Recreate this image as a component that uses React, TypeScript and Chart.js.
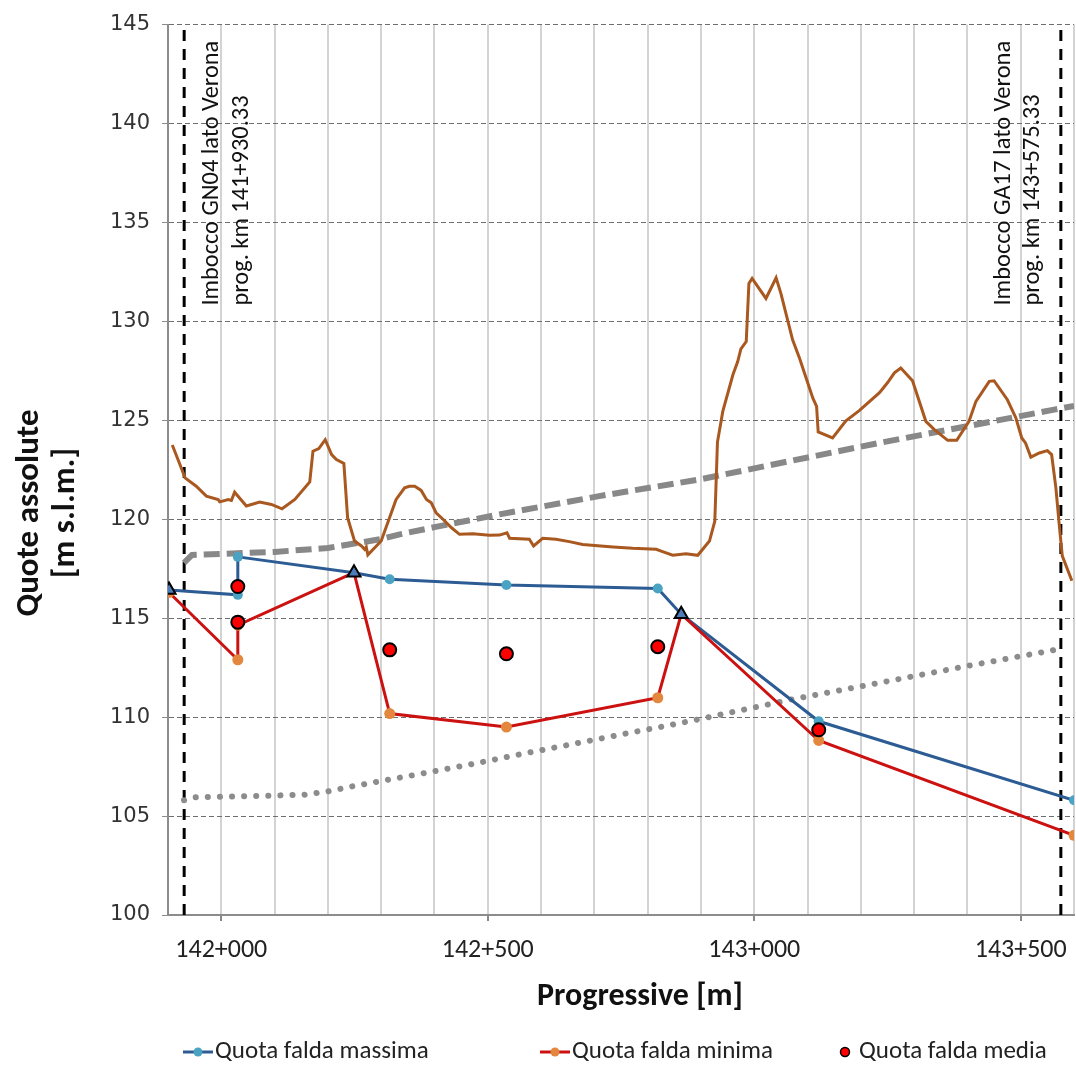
import React, { useEffect, useRef } from "react";
import { Chart, registerables } from "chart.js";

Chart.register(...registerables);

// ---------- data ----------
const seriesNames = ["Quota falda massima", "Quota falda minima", "Quota falda media"];
const xTitle = "Progressive [m]";
const yTitle = ["Quote assolute", "[m s.l.m.]"];

const xTickValues = [142000, 142500, 143000, 143500];
const xTickLabels = ["142+000", "142+500", "143+000", "143+500"];
const yMin = 100;
const yMax = 145;
const yStep = 5;
const xMin = 141900;
const xMax = 143600;
const xStep = 100;

const portalProgs = [141930.33, 143575.33];
const portalTexts: string[][] = [
  ["Imbocco GN04 lato Verona", "prog. km 141+930.33"],
  ["Imbocco GA17 lato Verona", "prog. km 143+575.33"],
];

const terrain: [number, number][] = [
  [141908, 123.75], [141920, 122.93], [141932, 122.09], [141953, 121.67], [141972, 121.17],
  [141994, 121.0], [141997, 120.88], [142013, 121.0], [142019, 120.95], [142025, 121.37],
  [142047, 120.67], [142072, 120.87], [142094, 120.75], [142114, 120.53], [142138, 121.0],
  [142166, 121.89], [142172, 123.44], [142183, 123.57], [142195, 124.02], [142207, 123.27],
  [142216, 123.02], [142230, 122.82], [142237, 120.08], [142250, 118.9], [142263, 118.65],
  [142269, 118.48], [142272, 118.6], [142275, 118.2], [142300, 118.9], [142328, 121.0],
  [142344, 121.59], [142353, 121.67], [142363, 121.67], [142375, 121.46], [142385, 121.0],
  [142394, 120.83], [142403, 120.33], [142416, 120.0], [142432, 119.57], [142447, 119.24],
  [142472, 119.27], [142503, 119.19], [142522, 119.2], [142536, 119.32], [142541, 119.04],
  [142578, 118.99], [142586, 118.65], [142603, 119.04], [142628, 118.99], [142653, 118.87],
  [142678, 118.73], [142735, 118.6], [142772, 118.53], [142816, 118.48], [142828, 118.36],
  [142847, 118.18], [142872, 118.26], [142894, 118.18], [142916, 118.9], [142926, 119.9],
  [142931, 123.9], [142941, 125.45], [142960, 127.3], [142969, 127.97], [142975, 128.61],
  [142985, 128.98], [142990, 131.92], [142996, 132.17], [143022, 131.16], [143041, 132.2],
  [143050, 131.42], [143072, 129.07], [143085, 128.14], [143110, 126.12], [143117, 125.7],
  [143120, 124.41], [143147, 124.11], [143172, 124.98], [143197, 125.49], [143235, 126.4],
  [143250, 126.9], [143263, 127.4], [143275, 127.64], [143297, 127.0], [143322, 124.95],
  [143338, 124.53], [143363, 123.99], [143380, 123.99], [143403, 124.95], [143416, 125.96],
  [143441, 126.97], [143450, 127.0], [143475, 126.04], [143491, 125.12], [143502, 124.11],
  [143509, 123.86], [143519, 123.14], [143535, 123.35], [143550, 123.47], [143558, 123.27],
  [143566, 121.59], [143572, 119.82], [143578, 118.15], [143596, 116.89],
];

const dashedProfile: [number, number][] = [
  [141930, 117.8], [141945, 118.2], [142000, 118.25], [142100, 118.35], [142200, 118.55],
  [142300, 119.0], [142335, 119.24], [142400, 119.6], [142522, 120.25], [142709, 121.17],
  [142897, 122.01], [143235, 123.86], [143563, 125.54], [143600, 125.73],
];

const dottedProfile: [number, number][] = [
  [141930, 105.8], [141950, 105.95], [142090, 106.03], [142156, 106.08], [142201, 106.25],
  [142246, 106.5], [142314, 106.84], [142385, 107.19], [142475, 107.65], [142566, 108.15],
  [142656, 108.62], [142746, 109.1], [142837, 109.57], [142882, 109.81], [143066, 110.87],
  [143197, 111.54], [143403, 112.6], [143575, 113.45],
];

const faldaMassima: [number, number][] = [
  [141902, 116.43], [142031, 116.18], [142031, 118.1], [142249, 117.3], [142316, 116.97],
  [142535, 116.68], [142819, 116.5], [142863, 115.2], [143121, 109.79], [143600, 105.8],
];

const faldaMinima: [number, number][] = [
  [141902, 116.3], [142031, 112.9], [142031, 114.65], [142249, 117.3], [142316, 110.18],
  [142535, 109.5], [142819, 110.98], [142863, 115.2], [143121, 108.82], [143600, 104.03],
];

const faldaMedia: [number, number][] = [
  [142031, 116.6], [142031, 114.8], [142316, 113.4], [142535, 113.2], [142819, 113.56],
  [143121, 109.36],
];

const coincidencePoints: [number, number][] = [
  [141902, 116.43], [142249, 117.3], [142863, 115.2],
];

// ---------- styling ----------
const CAL = "Carlito, 'Liberation Sans Narrow', 'Open Sans', sans-serif";
const VER = "'DejaVu Sans', Verdana, sans-serif";

const C_TERRAIN = "#A9581F";
const C_MAX_LINE = "#2C5C93";
const C_MAX_PT = "#4BA3C3";
const C_MIN_LINE = "#CC1111";
const C_MIN_PT = "#E2873D";

const toXY = (arr: [number, number][]) => arr.map(([x, y]) => ({ x, y }));

const fmtProg = (v: number) => {
  const i = xTickValues.indexOf(v);
  return i >= 0 ? xTickLabels[i] : "";
};

const extrasPlugin = {
  id: "extras",
  afterDraw(chart: any) {
    const { ctx, chartArea, scales } = chart;
    const xs = scales.x;

    // y axis title
    const yTitleX = [30, 66];
    yTitle.forEach((t, i) => {
      ctx.save();
      ctx.fillStyle = "#111";
      ctx.font = `bold 33px ${CAL}`;
      ctx.textAlign = "center";
      ctx.textBaseline = "middle";
      ctx.translate(yTitleX[i], 513);
      ctx.rotate(-Math.PI / 2);
      ctx.fillText(t, 0, 0);
      ctx.restore();
    });

    // x axis title
    ctx.save();
    ctx.fillStyle = "#111";
    ctx.font = `bold 32px ${CAL}`;
    ctx.textAlign = "center";
    ctx.textBaseline = "middle";
    ctx.fillText(xTitle, 640, 997);
    ctx.restore();

    // portal annotations
    const offsets = [
      [28, 58],
      [-57, -28],
    ];
    portalProgs.forEach((p, k) => {
      const px = xs.getPixelForValue(p);
      ctx.save();
      ctx.font = `22px ${CAL}`;
      const w = ctx.measureText(portalTexts[k][0]).width;
      const size = (22 * 265) / w;
      ctx.font = `${size}px ${CAL}`;
      ctx.fillStyle = "#111";
      ctx.textAlign = "left";
      ctx.textBaseline = "middle";
      portalTexts[k].forEach((t, j) => {
        ctx.save();
        ctx.translate(px + offsets[k][j], chartArea.top + 281);
        ctx.rotate(-Math.PI / 2);
        ctx.fillText(t, 0, 0);
        ctx.restore();
      });
      ctx.restore();
    });

    // legend
    const ly = 1052;
    const starts = [183, 540, 838];
    ctx.save();
    ctx.font = `25px ${CAL}`;
    ctx.textBaseline = "middle";
    ctx.textAlign = "left";
    const drawLineSample = (x0: number, line: string, pt: string) => {
      ctx.strokeStyle = line;
      ctx.lineWidth = 3;
      ctx.beginPath();
      ctx.moveTo(x0, ly);
      ctx.lineTo(x0 + 30, ly);
      ctx.stroke();
      ctx.fillStyle = pt;
      ctx.beginPath();
      ctx.arc(x0 + 15, ly, 4.5, 0, Math.PI * 2);
      ctx.fill();
    };
    drawLineSample(starts[0], C_MAX_LINE, C_MAX_PT);
    ctx.fillStyle = "#222";
    ctx.fillText(seriesNames[0], starts[0] + 32, ly);
    drawLineSample(starts[1], C_MIN_LINE, C_MIN_PT);
    ctx.fillStyle = "#222";
    ctx.fillText(seriesNames[1], starts[1] + 32, ly);
    ctx.fillStyle = "#FF0000";
    ctx.strokeStyle = "#000";
    ctx.lineWidth = 1.5;
    ctx.beginPath();
    ctx.arc(starts[2] + 7, ly, 4.5, 0, Math.PI * 2);
    ctx.fill();
    ctx.stroke();
    ctx.fillStyle = "#222";
    ctx.fillText(seriesNames[2], starts[2] + 21, ly);
    ctx.restore();
  },
};

export default function App() {
  const ref = useRef<HTMLCanvasElement | null>(null);

  useEffect(() => {
    if (!ref.current) return;
    const triIdx = new Set(coincidencePoints.map(([x, y]) => `${x}_${y}`));
    const radii = (arr: [number, number][], r: number) =>
      arr.map(([x, y]) => (triIdx.has(`${x}_${y}`) ? 0 : r));

    const datasets: any[] = [
      {
        label: "coincidence",
        data: toXY(coincidencePoints),
        showLine: false,
        pointStyle: "triangle",
        pointRadius: 7.5,
        pointBackgroundColor: "#4A7DBA",
        pointBorderColor: "#000",
        pointBorderWidth: 2,
        order: 0,
      },
      {
        label: seriesNames[2],
        data: toXY(faldaMedia),
        showLine: false,
        pointRadius: 6.5,
        pointBackgroundColor: "#FF0000",
        pointBorderColor: "#000",
        pointBorderWidth: 2,
        order: 1,
      },
      {
        label: seriesNames[1],
        data: toXY(faldaMinima),
        borderColor: C_MIN_LINE,
        borderWidth: 3,
        pointRadius: radii(faldaMinima, 5.5),
        pointBackgroundColor: C_MIN_PT,
        pointBorderWidth: 0,
        order: 2,
      },
      {
        label: seriesNames[0],
        data: toXY(faldaMassima),
        borderColor: C_MAX_LINE,
        borderWidth: 3,
        pointRadius: radii(faldaMassima, 5),
        pointBackgroundColor: C_MAX_PT,
        pointBorderWidth: 0,
        order: 3,
      },
      {
        label: "terreno",
        data: toXY(terrain),
        borderColor: C_TERRAIN,
        borderWidth: 3,
        pointRadius: 0,
        order: 4,
      },
      {
        label: "dotted",
        data: toXY(dottedProfile),
        borderColor: "#8c8c8c",
        borderWidth: 6,
        borderDash: [0.1, 12],
        borderCapStyle: "round",
        pointRadius: 0,
        order: 5,
      },
      {
        label: "dashed",
        data: toXY(dashedProfile),
        borderColor: "#888888",
        borderWidth: 6,
        borderDash: [16, 7],
        pointRadius: 0,
        order: 6,
      },
      ...portalProgs.map((p, i) => ({
        label: "portal" + i,
        data: [
          { x: p, y: yMin },
          { x: p, y: yMax },
        ],
        borderColor: "#000",
        borderWidth: 3,
        borderDash: [11, 8],
        pointRadius: 0,
        order: 7,
      })),
    ];

    const chart = new Chart(ref.current, {
      type: "line",
      data: { datasets },
      options: {
        animation: false,
        responsive: false,
        devicePixelRatio: 1,
        elements: { line: { tension: 0 } },
        layout: { autoPadding: false, padding: { top: 22, right: 2, left: 0, bottom: 0 } },
        plugins: {
          legend: { display: false },
          tooltip: { enabled: false },
        },
        scales: {
          x: {
            type: "linear",
            min: xMin,
            max: xMax,
            afterFit: (s: any) => {
              s.height = 151;
              s.paddingLeft = 0;
              s.paddingRight = 0;
            },
            ticks: {
              stepSize: xStep,
              autoSkip: false,
              maxRotation: 0,
              callback: (v: any) => fmtProg(Number(v)),
              font: { family: CAL, size: 26 },
              color: "#222",
              padding: 14,
            },
            grid: {
              color: "#d3d3d3",
              lineWidth: 2,
              tickLength: 6,
              tickColor: (c: any) =>
                c.tick && xTickValues.includes(c.tick.value) ? "#888" : "rgba(0,0,0,0)",
            },
            border: { display: true, color: "#8c8c8c", width: 2 },
            title: { display: false },
          },
          y: {
            type: "linear",
            min: yMin,
            max: yMax,
            afterFit: (s: any) => {
              s.width = 168;
            },
            ticks: {
              stepSize: yStep,
              font: { family: VER, size: 21 },
              color: "#333",
              padding: 12,
            },
            grid: {
              color: "#6e6e6e",
              lineWidth: 1,
              tickLength: 6,
              tickColor: "#8c8c8c",
            },
            border: { display: true, color: "#8c8c8c", width: 2, dash: [5, 3] },
          },
        },
      } as any,
      plugins: [extrasPlugin],
    });
    return () => chart.destroy();
  }, []);

  return (
    <div style={{ position: "absolute", left: 0, top: 0, width: 1076, height: 1066, background: "#fff" }}>
      <canvas ref={ref} width={1076} height={1066} style={{ display: "block" }} />
    </div>
  );
}
